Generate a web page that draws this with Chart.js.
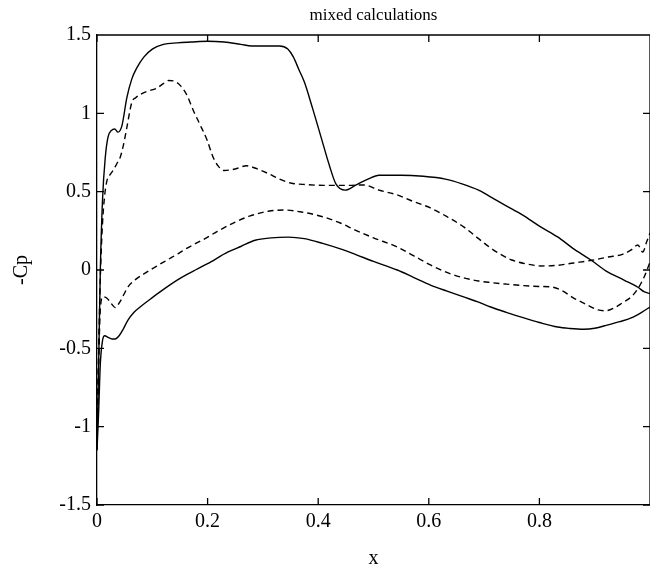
<!DOCTYPE html>
<html>
<head>
<meta charset="utf-8">
<script src="https://cdn.jsdelivr.net/npm/chart.js@4.4.1/dist/chart.umd.min.js"></script>
<style>
  html, body { margin: 0; padding: 0; background: #fff; }
  #wrap { width: 650px; height: 571px; }
</style>
</head>
<body>
<div id="wrap"><canvas id="myChart" width="650" height="571"></canvas></div>
<script>
// ticks
const xTickValues = [0, 0.2, 0.4, 0.6, 0.8];
const xTickLabels = ['0', '0.2', '0.4', '0.6', '0.8'];
const yTickValues = [-1.5, -1, -0.5, 0, 0.5, 1, 1.5];
const yTickLabels = ['-1.5', '-1', '-0.5', '0', '0.5', '1', '1.5'];

// upper surface, solid
const solidUpperX = [0, 0.003, 0.006, 0.01, 0.015, 0.02, 0.026, 0.032, 0.038, 0.045, 0.054, 0.063, 0.072, 0.085, 0.1, 0.12, 0.145, 0.17, 0.2, 0.23, 0.26, 0.28, 0.3, 0.33, 0.345, 0.355, 0.365, 0.375, 0.39, 0.405, 0.42, 0.432, 0.449, 0.467, 0.49, 0.51, 0.55, 0.59, 0.63, 0.66, 0.69, 0.71, 0.74, 0.77, 0.8, 0.833, 0.86, 0.893, 0.92, 0.953, 0.978, 0.99, 1.0];
const solidUpperY = [-1.15, -0.6, 0.0, 0.45, 0.72, 0.85, 0.89, 0.9, 0.88, 0.92, 1.10, 1.22, 1.29, 1.36, 1.41, 1.44, 1.45, 1.455, 1.46, 1.455, 1.44, 1.43, 1.43, 1.43, 1.41, 1.36, 1.28, 1.2, 1.03, 0.85, 0.67, 0.55, 0.51, 0.54, 0.58, 0.605, 0.605, 0.598, 0.58, 0.55, 0.51, 0.47, 0.41, 0.35, 0.28, 0.211, 0.14, 0.064, -0.005, -0.064, -0.11, -0.14, -0.15];

// upper surface, dashed
const dashUpperX = [0, 0.003, 0.006, 0.01, 0.014, 0.018, 0.024, 0.03, 0.036, 0.042, 0.048, 0.054, 0.063, 0.07, 0.078, 0.09, 0.108, 0.12, 0.13, 0.14, 0.15, 0.162, 0.174, 0.186, 0.199, 0.21, 0.22, 0.23, 0.25, 0.27, 0.29, 0.31, 0.33, 0.35, 0.38, 0.41, 0.45, 0.482, 0.51, 0.543, 0.57, 0.603, 0.633, 0.663, 0.69, 0.712, 0.73, 0.75, 0.775, 0.803, 0.833, 0.862, 0.895, 0.924, 0.95, 0.966, 0.978, 0.987, 0.994, 1.0];
const dashUpperY = [-1.05, -0.5, -0.05, 0.3, 0.48, 0.57, 0.61, 0.64, 0.68, 0.72, 0.8, 0.91, 1.07, 1.1, 1.12, 1.14, 1.16, 1.19, 1.21, 1.205, 1.18, 1.12, 1.02, 0.93, 0.83, 0.72, 0.66, 0.635, 0.645, 0.665, 0.645, 0.615, 0.58, 0.555, 0.545, 0.54, 0.54, 0.543, 0.51, 0.479, 0.44, 0.396, 0.34, 0.275, 0.2, 0.14, 0.1, 0.064, 0.04, 0.026, 0.03, 0.045, 0.062, 0.083, 0.1, 0.128, 0.16, 0.115, 0.18, 0.236];

// lower surface, dashed
const dashLowerX = [0, 0.003, 0.006, 0.011, 0.018, 0.025, 0.033, 0.042, 0.056, 0.07, 0.087, 0.108, 0.13, 0.147, 0.163, 0.19, 0.217, 0.25, 0.277, 0.31, 0.337, 0.37, 0.408, 0.44, 0.467, 0.5, 0.543, 0.573, 0.603, 0.636, 0.663, 0.69, 0.712, 0.74, 0.772, 0.8, 0.821, 0.84, 0.862, 0.885, 0.906, 0.92, 0.935, 0.95, 0.966, 0.978, 0.99, 1.0];
const dashLowerY = [-1.05, -0.6, -0.25, -0.17, -0.18, -0.21, -0.24, -0.2, -0.108, -0.06, -0.02, 0.025, 0.07, 0.105, 0.14, 0.19, 0.245, 0.306, 0.345, 0.375, 0.383, 0.37, 0.34, 0.3, 0.255, 0.205, 0.147, 0.09, 0.032, -0.02, -0.05, -0.07, -0.08, -0.09, -0.1, -0.105, -0.108, -0.13, -0.179, -0.22, -0.255, -0.26, -0.243, -0.21, -0.172, -0.12, -0.04, 0.05];

// lower surface, solid
const solidLowerX = [0, 0.003, 0.006, 0.01, 0.014, 0.02, 0.027, 0.033, 0.04, 0.047, 0.056, 0.067, 0.078, 0.095, 0.114, 0.13, 0.145, 0.162, 0.178, 0.2, 0.237, 0.26, 0.286, 0.315, 0.346, 0.375, 0.408, 0.44, 0.467, 0.5, 0.543, 0.573, 0.603, 0.633, 0.663, 0.69, 0.712, 0.74, 0.772, 0.8, 0.833, 0.855, 0.88, 0.9, 0.924, 0.945, 0.966, 0.985, 1.0];
const solidLowerY = [-1.15, -0.9, -0.6, -0.45, -0.42, -0.43, -0.44, -0.44, -0.42, -0.38, -0.32, -0.27, -0.236, -0.19, -0.14, -0.1, -0.065, -0.03, 0.0, 0.04, 0.115, 0.15, 0.19, 0.205, 0.21, 0.2, 0.17, 0.135, 0.1, 0.055, 0.0, -0.048, -0.096, -0.135, -0.172, -0.205, -0.236, -0.27, -0.306, -0.335, -0.364, -0.373, -0.378, -0.372, -0.35, -0.33, -0.306, -0.27, -0.236];

const toPoints = (xs, ys) => xs.map((x, i) => ({ x: x, y: ys[i] }));

const serif = '"Liberation Serif", "DejaVu Serif", serif';

const lineSet = (pts, dashed) => ({
  data: pts,
  borderColor: '#000',
  borderWidth: 1.4,
  borderDash: dashed ? [6, 4] : [],
  pointRadius: 0,
  fill: false,
  cubicInterpolationMode: 'monotone',
});

// frame on top/right and inward ticks on all four sides
const frameTicks = {
  id: 'frameTicks',
  afterDraw(chart) {
    const ctx = chart.ctx;
    const a = chart.chartArea;
    const xs = chart.scales.x;
    const ys = chart.scales.y;
    const len = 7;
    ctx.save();
    ctx.strokeStyle = '#000';
    ctx.lineWidth = 1.3;
    ctx.beginPath();
    ctx.moveTo(a.left, a.top); ctx.lineTo(a.right, a.top);
    ctx.moveTo(a.right, a.top); ctx.lineTo(a.right, a.bottom);
    xTickValues.forEach(v => {
      const px = xs.getPixelForValue(v);
      ctx.moveTo(px, a.bottom); ctx.lineTo(px, a.bottom - len);
      ctx.moveTo(px, a.top); ctx.lineTo(px, a.top + len);
    });
    yTickValues.forEach(v => {
      const py = ys.getPixelForValue(v);
      ctx.moveTo(a.left, py); ctx.lineTo(a.left + len, py);
      ctx.moveTo(a.right, py); ctx.lineTo(a.right - len, py);
    });
    ctx.stroke();
    ctx.restore();
  }
};

new Chart(document.getElementById('myChart').getContext('2d'), {
  type: 'line',
  data: {
    datasets: [
      lineSet(toPoints(solidUpperX, solidUpperY), false),
      lineSet(toPoints(dashUpperX, dashUpperY), true),
      lineSet(toPoints(dashLowerX, dashLowerY), true),
      lineSet(toPoints(solidLowerX, solidLowerY), false),
    ],
  },
  options: {
    responsive: false,
    animation: false,
    layout: { padding: { left: 0, right: 0, top: 0, bottom: 0 } },
    plugins: {
      legend: { display: false },
      tooltip: { enabled: false },
      title: {
        display: true,
        fullSize: false,
        text: 'mixed calculations',
        color: '#000',
        font: { family: serif, size: 17, weight: 'normal' },
        padding: { top: 5, bottom: 9.6 },
      },
    },
    scales: {
      x: {
        type: 'linear',
        min: 0,
        max: 1,
        afterBuildTicks: s => { s.ticks = xTickValues.map(v => ({ value: v })); },
        afterFit: s => { s.height = 66; },
        grid: { display: false, drawTicks: false },
        border: { display: true, color: '#000', width: 1.3 },
        ticks: {
          color: '#000',
          padding: 5,
          maxRotation: 0,
          font: { family: serif, size: 20 },
          callback: (v, i) => xTickLabels[i],
        },
        title: {
          display: true,
          text: 'x',
          color: '#000',
          font: { family: serif, size: 20 },
          padding: { top: 0, bottom: 0 },
        },
      },
      y: {
        type: 'linear',
        min: -1.5,
        max: 1.5,
        afterBuildTicks: s => { s.ticks = yTickValues.map(v => ({ value: v })); },
        afterFit: s => { s.width = 97; },
        grid: { display: false, drawTicks: false },
        border: { display: true, color: '#000', width: 1.3 },
        ticks: {
          color: '#000',
          padding: 6,
          font: { family: serif, size: 20 },
          callback: (v, i) => yTickLabels[i],
        },
        title: {
          display: true,
          text: '-Cp',
          color: '#000',
          font: { family: serif, size: 20 },
          padding: { top: 10, bottom: 0 },
        },
      },
    },
  },
  plugins: [frameTicks],
});
</script>
</body>
</html>
